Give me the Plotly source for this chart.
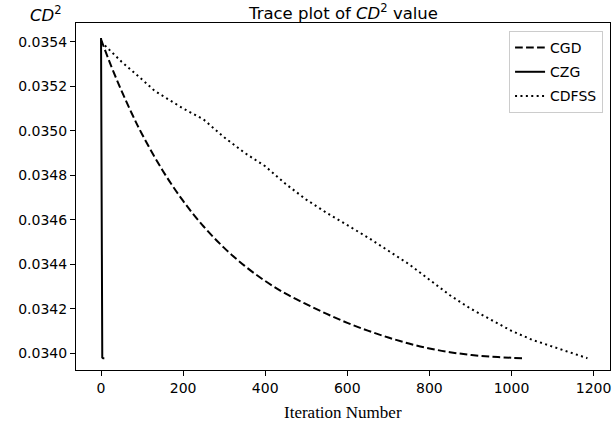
import plotly.graph_objects as go

# ---- data ----
cgd_iter = [0, 25, 50, 75, 100, 150, 200, 250, 300, 350, 400, 450, 500, 550, 600, 650,
            700, 750, 800, 850, 900, 950, 1000, 1030]
cgd_val = [0.03541, 0.035289, 0.035179, 0.035077, 0.034984, 0.034821, 0.034684, 0.034569,
           0.034473, 0.034392, 0.034324, 0.034267, 0.034220, 0.034176, 0.034136, 0.034101,
           0.034070, 0.034043, 0.034021, 0.034004, 0.033992, 0.033984, 0.033979, 0.033977]

czg_iter = [0, 1, 2, 3, 5, 8]
czg_val = [0.035417, 0.03430, 0.03400, 0.033980, 0.033977, 0.033977]

cdfss_iter = [0, 50, 100, 130, 160, 200, 250, 300, 350, 400, 450, 500, 550,
              600, 650, 700, 750, 800, 850, 900, 950, 1000, 1050, 1100, 1150, 1185]
cdfss_val = [0.03540, 0.03531, 0.03523, 0.03518, 0.035145, 0.03510, 0.03505,
             0.03497, 0.03490, 0.03484, 0.03476, 0.03469, 0.03463, 0.034575, 0.03452,
             0.03446, 0.03440, 0.03433, 0.03426, 0.03420, 0.03415, 0.03410, 0.03406,
             0.03403, 0.03400, 0.033977]

x_ticks = [0, 200, 400, 600, 800, 1000, 1200]
y_ticks = [0.0340, 0.0342, 0.0344, 0.0346, 0.0348, 0.0350, 0.0352, 0.0354]

FONT = "DejaVu Sans"

fig = go.Figure()
fig.add_trace(go.Scatter(x=cgd_iter, y=cgd_val, mode="lines", name="CGD",
                         legendgroup="a", line_shape="spline",
                         line=dict(color="black", width=2, dash="7.7px,3.3px")))
fig.add_trace(go.Scatter(x=czg_iter, y=czg_val, mode="lines", name="CZG",
                         legendgroup="b",
                         line=dict(color="black", width=2)))
fig.add_trace(go.Scatter(x=cdfss_iter, y=cdfss_val, mode="lines", name="CDFSS",
                         legendgroup="c",
                         line=dict(color="black", width=2, dash="2px,3.4px")))

fig.update_layout(
    width=614, height=425,
    margin=dict(l=76, r=4, t=23, b=55),
    paper_bgcolor="white", plot_bgcolor="white",
    font=dict(family=FONT, size=14, color="black"),
    showlegend=True,
    legend=dict(x=0.987, xanchor="right", y=0.977, yanchor="top",
                bgcolor="white", bordercolor="#cccccc", borderwidth=1,
                font=dict(family=FONT, size=14), tracegroupgap=3),
    xaxis=dict(range=[-61, 1240], tickmode="array", tickvals=x_ticks,
               ticktext=[str(v) for v in x_ticks],
               showline=True, mirror=True, linecolor="black", linewidth=1,
               ticks="outside", ticklen=5, tickcolor="black", tickwidth=1,
               showgrid=False, zeroline=False,
               tickfont=dict(family=FONT, size=14)),
    yaxis=dict(range=[0.033924, 0.035484], tickmode="array", tickvals=y_ticks,
               ticktext=[f"{v:.4f}" for v in y_ticks],
               showline=True, mirror=True, linecolor="black", linewidth=1,
               ticks="outside", ticklen=5, tickcolor="black", tickwidth=1,
               showgrid=False, zeroline=False,
               tickfont=dict(family=FONT, size=14)),
    annotations=[
        dict(text="Trace plot of <i>CD</i><sup>2</sup> value", xref="paper", yref="paper",
             x=0.5, y=1, xanchor="center", yanchor="bottom", yshift=-2, showarrow=False,
             font=dict(family=FONT, size=16.5)),
        dict(text="<i>CD</i><sup>2</sup>", xref="paper", yref="paper",
             x=0, y=1, xanchor="right", yanchor="bottom", xshift=-12, yshift=-4,
             showarrow=False, font=dict(family=FONT, size=16.5)),
        dict(text="Iteration Number", xref="paper", yref="paper",
             x=0.5, y=0, xanchor="center", yanchor="top", yshift=-31,
             showarrow=False, font=dict(family="Liberation Serif", size=17)),
    ],
)

fig.write_html("out.html", config={"displayModeBar": False},
               post_script="document.body.style.margin='0';document.body.style.padding='0';")
